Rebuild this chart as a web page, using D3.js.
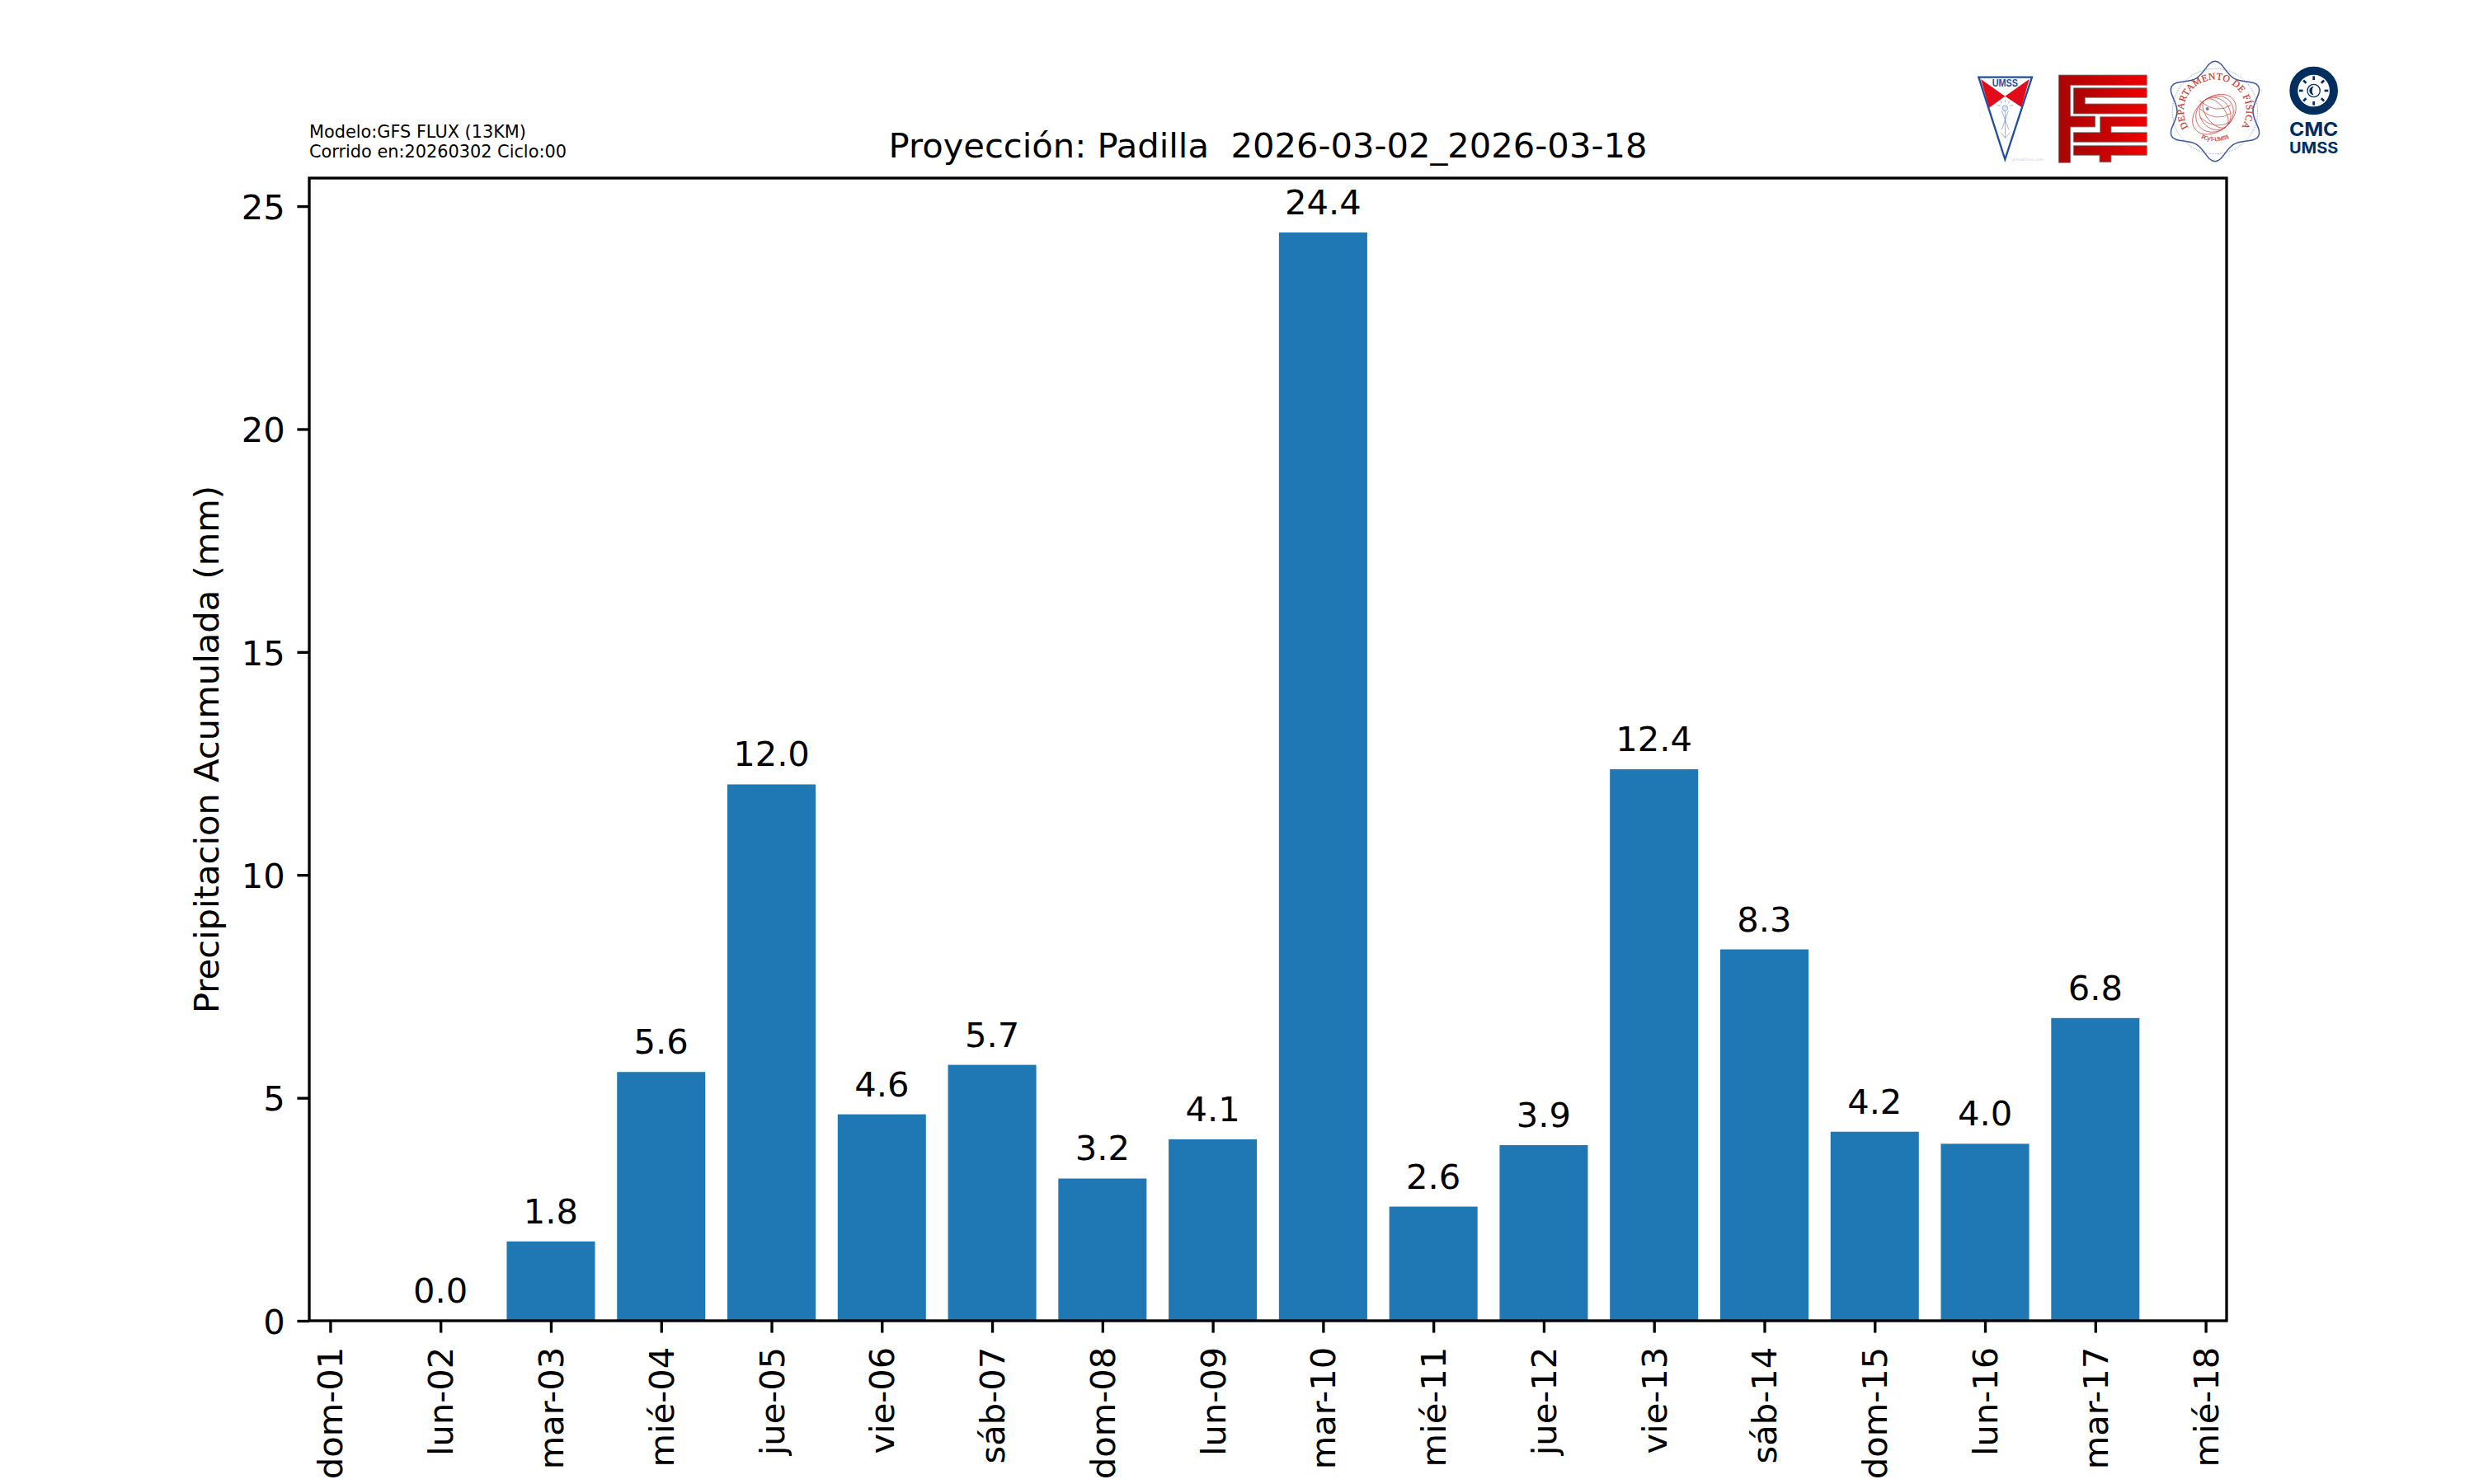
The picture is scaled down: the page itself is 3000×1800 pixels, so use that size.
<!DOCTYPE html>
<html>
<head>
<meta charset="utf-8">
<script src="https://cdnjs.cloudflare.com/ajax/libs/d3/7.8.5/d3.min.js"></script>
<style>
  html, body { margin: 0; padding: 0; background: #fff; }
  svg { display: block; }
  text { font-family: "DejaVu Sans", sans-serif; white-space: pre; }
</style>
</head>
<body>
<svg id="chart" width="3000" height="1800"></svg>
<script>
const days = ['dom-01','lun-02','mar-03','mié-04','jue-05','vie-06','sáb-07','dom-08','lun-09',
              'mar-10','mié-11','jue-12','vie-13','sáb-14','dom-15','lun-16','mar-17','mié-18'];
// first and last day have no bar
const barDays = days.slice(1, 17);
const precip = [0.0, 1.78, 5.58, 12.03, 4.63, 5.74, 3.19, 4.07, 24.41, 2.56, 3.94, 12.37, 8.33, 4.24, 3.97, 6.79];
const yTicks = [0, 5, 10, 15, 20, 25];

const title = 'Proyección: Padilla  2026-03-02_2026-03-18';
const yTitle = 'Precipitacion Acumulada (mm)';
const modelNote = ['Modelo:GFS FLUX (13KM)', 'Corrido en:20260302 Ciclo:00'];

const fs = 41.67;          // 10pt at 300 dpi
const lw = 3.33;           // 0.8pt
const tickLen = 14.58;
const margin = { top: 216, bottom: 198, left: 375, right: 300 };
const width  = 3000 - margin.left - margin.right;
const height = 1800 - margin.top - margin.bottom;

const root = d3.select('#chart');
root.append('rect').attr('width', 3000).attr('height', 1800).attr('fill', '#fff');

const svg = root.append('g')
  .attr('transform', `translate(${margin.left}, ${margin.top})`);

const x = d3.scaleLinear().domain([-0.19, 17.19]).range([0, width]);
const y = d3.scaleLinear().domain([0, 25.63]).range([height, 0]);
const barW = x(0.8) - x(0);

svg.selectAll('.bar')
  .data(barDays)
  .enter()
  .append('rect')
  .attr('class', 'bar')
  .attr('x', d => x(days.indexOf(d)) - barW / 2)
  .attr('y', (d, i) => y(precip[i]))
  .attr('width', barW)
  .attr('height', (d, i) => height - y(precip[i]))
  .attr('fill', '#1f77b4');

svg.selectAll('.bar-label')
  .data(barDays)
  .enter()
  .append('text')
  .attr('class', 'bar-label')
  .attr('x', d => x(days.indexOf(d)))
  .attr('y', (d, i) => y(precip[i]) - 22)
  .attr('text-anchor', 'middle')
  .attr('font-size', fs)
  .attr('fill', '#000')
  .text((d, i) => d3.format('.1f')(precip[i]));

const xAxis = svg.append('g')
  .attr('transform', `translate(0, ${height})`)
  .call(d3.axisBottom(x)
    .tickValues(d3.range(days.length))
    .tickFormat(i => days[i])
    .tickSize(tickLen)
    .tickSizeOuter(0));
xAxis.select('.domain').remove();
xAxis.selectAll('line').attr('stroke', '#000').attr('stroke-width', lw);
xAxis.selectAll('text')
  .attr('font-size', fs)
  .attr('fill', '#000')
  .attr('text-anchor', 'end')
  .attr('dy', null)
  .attr('x', -(tickLen * 2 + 2.5))
  .attr('y', 14.5)
  .attr('transform', 'rotate(-90)');

const yAxis = svg.append('g')
  .call(d3.axisLeft(y)
    .tickValues(yTicks)
    .tickSize(tickLen)
    .tickSizeOuter(0)
    .tickPadding(tickLen));
yAxis.select('.domain').remove();
yAxis.selectAll('line').attr('stroke', '#000').attr('stroke-width', lw);
yAxis.selectAll('text')
  .attr('font-size', fs)
  .attr('fill', '#000')
  .attr('dy', '0.364em');

svg.append('rect')
  .attr('width', width).attr('height', height)
  .attr('fill', 'none')
  .attr('stroke', '#000')
  .attr('stroke-width', lw);

svg.append('text')
  .attr('x', -height / 2).attr('y', 265 - margin.left)
  .attr('transform', 'rotate(-90)')
  .attr('text-anchor', 'middle')
  .attr('font-size', fs)
  .attr('fill', '#000')
  .text(yTitle);

svg.append('text')
  .attr('x', width / 2).attr('y', 191 - margin.top)
  .attr('text-anchor', 'middle')
  .attr('font-size', fs)
  .attr('fill', '#000')
  .text(title);

root.selectAll('.note')
  .data(modelNote)
  .enter()
  .append('text')
  .attr('class', 'note')
  .attr('x', 375)
  .attr('y', (d, i) => 167.3 + i * 23.4)
  .attr('font-size', 20.83)
  .attr('fill', '#000')
  .text(d => d);

// ---- logos, coordinates are crop pixels (3x) so they stay readable
const defs = root.append('defs');
const grad = defs.append('linearGradient').attr('id', 'fcfRed');
grad.append('stop').attr('offset', '0%').attr('stop-color', '#a80404');
grad.append('stop').attr('offset', '100%').attr('stop-color', '#f00000');

// UMSS shield
const umss = root.append('g').attr('transform', 'translate(2390, 70) scale(0.3333)');
umss.append('path').attr('d', 'M28,71 L222,71 L124,370 Z')
  .attr('fill', '#fff').attr('stroke', '#1f4e9c').attr('stroke-width', 7);
umss.append('path').attr('d', 'M36,78 L124,140 L66,182 Z M212,78 L124,140 L184,180 Z').attr('fill', '#e20b1a');
umss.append('text').attr('x', 124).attr('y', 105).attr('text-anchor', 'middle')
  .attr('font-size', 36).attr('font-weight', 'bold').attr('fill', '#1f4e9c')
  .attr('textLength', 94).attr('lengthAdjust', 'spacingAndGlyphs')
  .attr('style', 'font-family:"Liberation Sans"').text('UMSS');
umss.append('circle').attr('cx', 124).attr('cy', 184).attr('r', 10)
  .attr('fill', '#dfe6f2').attr('stroke', '#6d8abb').attr('stroke-width', 2);
umss.append('path')
  .attr('d', 'M112,194 L138,262 M136,194 L112,262 M124,194 L125,292 M96,172 L106,176 M108,158 L112,166 M124,152 L124,162 M140,158 L136,166 M153,172 L142,176 M108,272 L125,292 L142,272')
  .attr('fill', 'none').attr('stroke', '#6d8abb').attr('stroke-width', 2);
umss.append('text').attr('x', 151).attr('y', 374).attr('font-size', 14).attr('fill', '#c9ccd0').text('preadictivo.com');

// FCF block letters
const fcf = root.append('g').attr('transform', 'translate(2390, 70) scale(0.3333)');
const fcfPaths = [
  'M319,63 H640 V100 H362 V213 H452 V252 H362 V382 H319 Z',
  'M373,110 H640 V145 H415 V168 H640 V204 H373 Z',
  'M470,215 H640 V250 H510 V272 H640 V307 H373 V272 H470 Z',
  'M373,320 H640 V355 H510 V380 H468 V355 H373 Z'
];
fcf.selectAll('path').data(fcfPaths).enter().append('path')
  .attr('d', d => d)
  .attr('fill', 'url(#fcfRed)')
  .attr('stroke', '#7d7d7d').attr('stroke-width', 2.5);

// Departamento de Fisica seal
const seal = root.append('g').attr('transform', 'translate(2630, 60) scale(0.3333)');
const sealCx = 168, sealCy = 225;
const lobes = d3.range(12).map(i => [i * Math.PI / 6, i % 2 === 0 ? 182 : 138]);
seal.append('path')
  .attr('transform', `translate(${sealCx}, ${sealCy})`)
  .attr('d', d3.lineRadial().curve(d3.curveCardinalClosed.tension(-0.2))(lobes))
  .attr('fill', 'none').attr('stroke', '#3d55a5').attr('stroke-width', 4.5);
seal.append('circle').attr('cx', sealCx).attr('cy', sealCy).attr('r', 155)
  .attr('fill', 'none').attr('stroke', '#5a70b5').attr('stroke-width', 2.5).attr('stroke-dasharray', '2.5 4');
defs.append('path').attr('id', 'sealTop').attr('d', 'M74,288 A114,114 0 1 1 262,288');
defs.append('path').attr('id', 'sealBot').attr('d', 'M88,300 A112,112 0 0 0 248,300');
const sealText = (id, txt, size, spacing) => seal.append('text')
  .attr('font-size', size).attr('fill', '#c8392f')
  .attr('stroke', '#c8392f').attr('stroke-width', 0.7)
  .attr('letter-spacing', spacing)
  .attr('style', 'font-family:"Liberation Serif"')
  .attr('text-anchor', 'middle')
  .append('textPath').attr('href', '#' + id).attr('startOffset', '50%').text(txt);
sealText('sealTop', 'DEPARTAMENTO DE FÍSICA', 35, 1.5);
sealText('sealBot', 'FCyT-UMSS', 20, 0);
const globeRx = [88, 72, 54, 34];
seal.selectAll('.globe').data(globeRx).enter().append('ellipse')
  .attr('class', 'globe')
  .attr('cx', (d, i) => 165 + i * 2).attr('cy', 236).attr('rx', d => d).attr('ry', 62)
  .attr('transform', 'rotate(-38 165 236)')
  .attr('fill', 'none').attr('stroke', '#d0443c').attr('stroke-width', 2.2);
const globeLat = [-30, 0, 30];
seal.selectAll('.lat').data(globeLat).enter().append('path')
  .attr('class', 'lat')
  .attr('d', d => `M112,${216 + d} Q170,${268 + d} 226,${232 + d}`)
  .attr('fill', 'none').attr('stroke', '#d0443c').attr('stroke-width', 2.2);
seal.append('circle').attr('cx', 140).attr('cy', 216).attr('r', 6).attr('fill', '#6f80b8');

// CMC badge
const cmc = root.append('g').attr('transform', 'translate(2630, 60) scale(0.3333)');
const navy = '#002f5f';
cmc.append('circle').attr('cx', 527).attr('cy', 150).attr('r', 73)
  .attr('fill', '#fff').attr('stroke', navy).attr('stroke-width', 30);
cmc.append('circle').attr('cx', 527).attr('cy', 150).attr('r', 23)
  .attr('fill', '#fff').attr('stroke', navy).attr('stroke-width', 4);
cmc.append('path').attr('d', 'M527,134 A16,16 0 0 0 527,166 A24,24 0 0 1 527,134 Z').attr('fill', navy);
const rays = d3.range(8).map(i => i * 45);
cmc.selectAll('.ray').data(rays).enter().append('rect')
  .attr('class', 'ray')
  .attr('x', 523).attr('y', 97).attr('width', 8).attr('height', 14)
  .attr('transform', d => `rotate(${d} 527 150)`)
  .attr('fill', navy);
cmc.append('text').attr('x', 527).attr('y', 315).attr('text-anchor', 'middle')
  .attr('font-size', 70).attr('font-weight', 'bold').attr('fill', navy)
  .attr('textLength', 178).attr('lengthAdjust', 'spacingAndGlyphs')
  .attr('style', 'font-family:Inter').text('CMC');
cmc.append('text').attr('x', 527).attr('y', 377).attr('text-anchor', 'middle')
  .attr('font-size', 55).attr('font-weight', 'bold').attr('fill', navy)
  .attr('textLength', 178).attr('lengthAdjust', 'spacingAndGlyphs')
  .attr('style', 'font-family:Inter').text('UMSS');
</script>
</body>
</html>
